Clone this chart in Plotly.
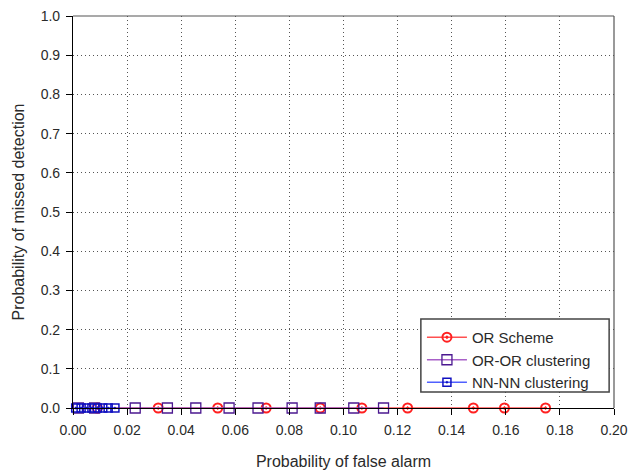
import plotly.graph_objects as go

or_x = [0.009, 0.0315, 0.0535, 0.0714, 0.0914, 0.1068, 0.1237, 0.148, 0.1595, 0.1747]
or_y = [0.0] * len(or_x)
oror_x = [0.002, 0.008, 0.023, 0.0349, 0.0454, 0.0577, 0.0684, 0.081, 0.0914, 0.1038, 0.1148]
oror_y = [0.0] * len(oror_x)
nn_x = [0.001, 0.003, 0.005, 0.007, 0.009, 0.011, 0.013, 0.0155]
nn_y = [0.0] * len(nn_x)

x_ticks = [0.00, 0.02, 0.04, 0.06, 0.08, 0.10, 0.12, 0.14, 0.16, 0.18, 0.20]
y_ticks = [0.0, 0.1, 0.2, 0.3, 0.4, 0.5, 0.6, 0.7, 0.8, 0.9, 1.0]

FONT = "Liberation Sans, Arial"
TXT = "#2a2a2a"

fig = go.Figure()
fig.add_trace(go.Scatter(x=or_x, y=or_y, mode="lines+markers", name="OR Scheme",
                         cliponaxis=False,
                         line=dict(color="#ff5050", width=1.5),
                         marker=dict(symbol="circle-dot", size=9, color="rgba(0,0,0,0)",
                                     line=dict(color="#ff2020", width=2))))
fig.add_trace(go.Scatter(x=oror_x, y=oror_y, mode="lines+markers", name="OR-OR clustering",
                         cliponaxis=False,
                         line=dict(color="#a860c8", width=1.5),
                         marker=dict(symbol="square-open", size=10, color="#4b1890",
                                     line=dict(color="#4b1890", width=1.3))))
fig.add_trace(go.Scatter(x=nn_x, y=nn_y, mode="lines+markers", name="NN-NN clustering",
                         cliponaxis=False,
                         line=dict(color="#5060ff", width=1.5),
                         marker=dict(symbol="square-dot", size=8, color="rgba(0,0,0,0)",
                                     line=dict(color="#1010c0", width=1.5))))

axis_common = dict(showline=True, linecolor="black", linewidth=1.2, mirror=False,
                   showgrid=True, gridcolor="#555555", griddash="1px,3px", gridwidth=1,
                   ticks="outside", ticklen=6, tickcolor="black", zeroline=False,
                   automargin=False, ticklabelstandoff=3,
                   tickfont=dict(family=FONT, size=14, color=TXT))

fig.update_xaxes(range=[0, 0.2], tickvals=x_ticks, tickformat=".2f",
                 title=dict(text="Probability of false alarm", standoff=18,
                            font=dict(family=FONT, size=16, color=TXT)),
                 **axis_common)
fig.update_yaxes(range=[0, 1.0], tickvals=y_ticks, tickformat=".1f",
                 title=dict(text="Probability of missed detection", standoff=12,
                            font=dict(family=FONT, size=16, color=TXT)),
                 **axis_common)

# top and right border lines
fig.add_shape(type="line", xref="paper", yref="paper", x0=0, x1=1, y0=1, y1=1,
              line=dict(color="#555555", width=1.2))
fig.add_shape(type="line", xref="paper", yref="paper", x0=1, x1=1, y0=0, y1=1,
              line=dict(color="#555555", width=1.2))
# legend box
fig.add_shape(type="rect", xref="paper", yref="paper", x0=0.643, x1=0.991, y0=0.041, y1=0.227,
              line=dict(color="#444444", width=1.5), fillcolor="white", layer="above")

fig.update_layout(
    width=631, height=473,
    margin=dict(l=73, r=17, t=16, b=65),
    plot_bgcolor="white", paper_bgcolor="white",
    legend=dict(x=0.645, y=0.222, xanchor="left", yanchor="top",
                bgcolor="rgba(0,0,0,0)", borderwidth=0,
                font=dict(family=FONT, size=15, color=TXT),
                itemwidth=40, tracegroupgap=0),
)

fig.write_html("out.html", config={"displayModeBar": False},
               post_script="document.body.style.margin='0';document.body.style.padding='0';")
